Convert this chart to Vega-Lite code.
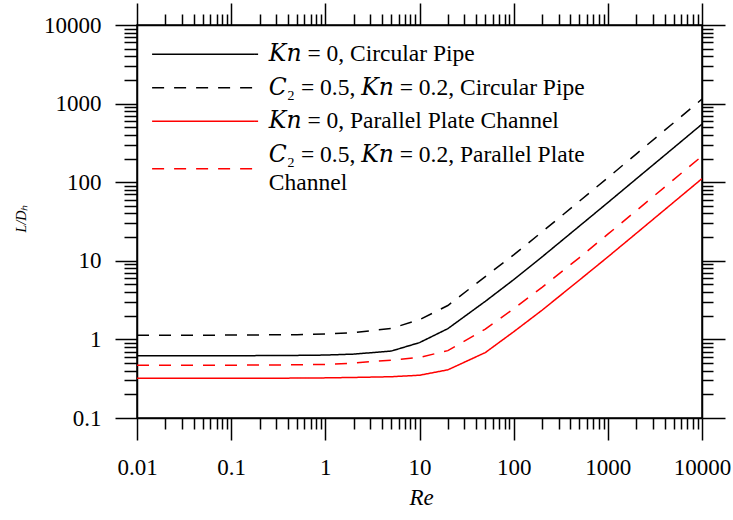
{
  "$schema": "https://vega.github.io/schema/vega-lite/v6.json",
  "width": 565,
  "height": 393,
  "autosize": {"type": "none"},
  "padding": {"left": 137, "top": 25, "right": 31, "bottom": 102},
  "background": "white",
  "config": {
    "view": {"stroke": "black", "strokeWidth": 1.5},
    "font": "Liberation Serif",
    "axis": {
      "grid": false,
      "domainColor": "black",
      "domainWidth": 1.5,
      "tickColor": "black",
      "tickWidth": 1.5,
      "labelFont": "Liberation Serif",
      "labelFontSize": 23,
      "labelColor": "black",
      "labelOverlap": false,
      "labelFlush": false,
      "labelBound": false,
      "titleFont": "Liberation Serif",
      "titleFontWeight": "normal",
      "titleColor": "black"
    },
    "legend": {
      "title": null,
      "orient": "none",
      "legendX": 56.35,
      "legendY": 17.5,
      "padding": 0,
      "symbolType": "M-5,0H5",
      "symbolSize": 449.4,
      "symbolStrokeWidth": 1.5,
      "labelFont": "Liberation Serif, DejaVu Serif",
      "labelFontSize": 23.5,
      "labelColor": "black",
      "labelOffset": 52,
      "labelLimit": 600,
      "rowPadding": 8.5
    }
  },
  "data": {
    "values": [
      {"Re": 0.01, "series": "Kn = 0, Circular Pipe", "L": 0.62},
      {"Re": 0.02, "series": "Kn = 0, Circular Pipe", "L": 0.62},
      {"Re": 0.05, "series": "Kn = 0, Circular Pipe", "L": 0.62},
      {"Re": 0.1, "series": "Kn = 0, Circular Pipe", "L": 0.62},
      {"Re": 0.2, "series": "Kn = 0, Circular Pipe", "L": 0.622},
      {"Re": 0.5, "series": "Kn = 0, Circular Pipe", "L": 0.626},
      {"Re": 1, "series": "Kn = 0, Circular Pipe", "L": 0.632},
      {"Re": 2, "series": "Kn = 0, Circular Pipe", "L": 0.65},
      {"Re": 5, "series": "Kn = 0, Circular Pipe", "L": 0.71},
      {"Re": 10, "series": "Kn = 0, Circular Pipe", "L": 0.91},
      {"Re": 20, "series": "Kn = 0, Circular Pipe", "L": 1.37},
      {"Re": 50, "series": "Kn = 0, Circular Pipe", "L": 3.05},
      {"Re": 100, "series": "Kn = 0, Circular Pipe", "L": 5.75},
      {"Re": 200, "series": "Kn = 0, Circular Pipe", "L": 11.2},
      {"Re": 500, "series": "Kn = 0, Circular Pipe", "L": 27.7},
      {"Re": 1000, "series": "Kn = 0, Circular Pipe", "L": 55},
      {"Re": 2000, "series": "Kn = 0, Circular Pipe", "L": 110},
      {"Re": 5000, "series": "Kn = 0, Circular Pipe", "L": 274},
      {"Re": 10000, "series": "Kn = 0, Circular Pipe", "L": 548},

      {"Re": 0.01, "series": "C₂ = 0.5, Kn = 0.2, Circular Pipe", "L": 1.13},
      {"Re": 0.02, "series": "C₂ = 0.5, Kn = 0.2, Circular Pipe", "L": 1.13},
      {"Re": 0.05, "series": "C₂ = 0.5, Kn = 0.2, Circular Pipe", "L": 1.13},
      {"Re": 0.1, "series": "C₂ = 0.5, Kn = 0.2, Circular Pipe", "L": 1.135},
      {"Re": 0.2, "series": "C₂ = 0.5, Kn = 0.2, Circular Pipe", "L": 1.14},
      {"Re": 0.5, "series": "C₂ = 0.5, Kn = 0.2, Circular Pipe", "L": 1.15},
      {"Re": 1, "series": "C₂ = 0.5, Kn = 0.2, Circular Pipe", "L": 1.17},
      {"Re": 2, "series": "C₂ = 0.5, Kn = 0.2, Circular Pipe", "L": 1.22},
      {"Re": 5, "series": "C₂ = 0.5, Kn = 0.2, Circular Pipe", "L": 1.38},
      {"Re": 10, "series": "C₂ = 0.5, Kn = 0.2, Circular Pipe", "L": 1.78},
      {"Re": 20, "series": "C₂ = 0.5, Kn = 0.2, Circular Pipe", "L": 2.7},
      {"Re": 50, "series": "C₂ = 0.5, Kn = 0.2, Circular Pipe", "L": 6.3},
      {"Re": 100, "series": "C₂ = 0.5, Kn = 0.2, Circular Pipe", "L": 11.9},
      {"Re": 200, "series": "C₂ = 0.5, Kn = 0.2, Circular Pipe", "L": 23.3},
      {"Re": 500, "series": "C₂ = 0.5, Kn = 0.2, Circular Pipe", "L": 57.5},
      {"Re": 1000, "series": "C₂ = 0.5, Kn = 0.2, Circular Pipe", "L": 114},
      {"Re": 2000, "series": "C₂ = 0.5, Kn = 0.2, Circular Pipe", "L": 228},
      {"Re": 5000, "series": "C₂ = 0.5, Kn = 0.2, Circular Pipe", "L": 570},
      {"Re": 10000, "series": "C₂ = 0.5, Kn = 0.2, Circular Pipe", "L": 1140},

      {"Re": 0.01, "series": "Kn = 0, Parallel Plate Channel", "L": 0.32},
      {"Re": 0.02, "series": "Kn = 0, Parallel Plate Channel", "L": 0.32},
      {"Re": 0.05, "series": "Kn = 0, Parallel Plate Channel", "L": 0.32},
      {"Re": 0.1, "series": "Kn = 0, Parallel Plate Channel", "L": 0.32},
      {"Re": 0.2, "series": "Kn = 0, Parallel Plate Channel", "L": 0.32},
      {"Re": 0.5, "series": "Kn = 0, Parallel Plate Channel", "L": 0.322},
      {"Re": 1, "series": "Kn = 0, Parallel Plate Channel", "L": 0.324},
      {"Re": 2, "series": "Kn = 0, Parallel Plate Channel", "L": 0.328},
      {"Re": 5, "series": "Kn = 0, Parallel Plate Channel", "L": 0.335},
      {"Re": 10, "series": "Kn = 0, Parallel Plate Channel", "L": 0.35},
      {"Re": 20, "series": "Kn = 0, Parallel Plate Channel", "L": 0.41},
      {"Re": 50, "series": "Kn = 0, Parallel Plate Channel", "L": 0.68},
      {"Re": 100, "series": "Kn = 0, Parallel Plate Channel", "L": 1.25},
      {"Re": 200, "series": "Kn = 0, Parallel Plate Channel", "L": 2.35},
      {"Re": 500, "series": "Kn = 0, Parallel Plate Channel", "L": 5.7},
      {"Re": 1000, "series": "Kn = 0, Parallel Plate Channel", "L": 11.2},
      {"Re": 2000, "series": "Kn = 0, Parallel Plate Channel", "L": 22.3},
      {"Re": 5000, "series": "Kn = 0, Parallel Plate Channel", "L": 55.6},
      {"Re": 10000, "series": "Kn = 0, Parallel Plate Channel", "L": 111},

      {"Re": 0.01, "series": "C₂ = 0.5, Kn = 0.2, Parallel Plate Channel", "L": 0.47},
      {"Re": 0.02, "series": "C₂ = 0.5, Kn = 0.2, Parallel Plate Channel", "L": 0.47},
      {"Re": 0.05, "series": "C₂ = 0.5, Kn = 0.2, Parallel Plate Channel", "L": 0.47},
      {"Re": 0.1, "series": "C₂ = 0.5, Kn = 0.2, Parallel Plate Channel", "L": 0.47},
      {"Re": 0.2, "series": "C₂ = 0.5, Kn = 0.2, Parallel Plate Channel", "L": 0.472},
      {"Re": 0.5, "series": "C₂ = 0.5, Kn = 0.2, Parallel Plate Channel", "L": 0.475},
      {"Re": 1, "series": "C₂ = 0.5, Kn = 0.2, Parallel Plate Channel", "L": 0.48},
      {"Re": 2, "series": "C₂ = 0.5, Kn = 0.2, Parallel Plate Channel", "L": 0.5},
      {"Re": 5, "series": "C₂ = 0.5, Kn = 0.2, Parallel Plate Channel", "L": 0.545},
      {"Re": 10, "series": "C₂ = 0.5, Kn = 0.2, Parallel Plate Channel", "L": 0.59},
      {"Re": 20, "series": "C₂ = 0.5, Kn = 0.2, Parallel Plate Channel", "L": 0.72},
      {"Re": 50, "series": "C₂ = 0.5, Kn = 0.2, Parallel Plate Channel", "L": 1.35},
      {"Re": 100, "series": "C₂ = 0.5, Kn = 0.2, Parallel Plate Channel", "L": 2.45},
      {"Re": 200, "series": "C₂ = 0.5, Kn = 0.2, Parallel Plate Channel", "L": 4.6},
      {"Re": 500, "series": "C₂ = 0.5, Kn = 0.2, Parallel Plate Channel", "L": 11},
      {"Re": 1000, "series": "C₂ = 0.5, Kn = 0.2, Parallel Plate Channel", "L": 21.8},
      {"Re": 2000, "series": "C₂ = 0.5, Kn = 0.2, Parallel Plate Channel", "L": 43.3},
      {"Re": 5000, "series": "C₂ = 0.5, Kn = 0.2, Parallel Plate Channel", "L": 108},
      {"Re": 10000, "series": "C₂ = 0.5, Kn = 0.2, Parallel Plate Channel", "L": 215}
    ]
  },
  "layer": [
    {
      "mark": {"type": "line", "strokeWidth": 1.5, "clip": true},
      "encoding": {
        "x": {
          "field": "Re", "type": "quantitative",
          "scale": {"type": "log", "domain": [0.01, 10000], "nice": false},
          "axis": {
            "orient": "bottom",
            "values": [0.01,0.02,0.03,0.04,0.05,0.06,0.07,0.08,0.09,0.1,0.2,0.3,0.4,0.5,0.6,0.7,0.8,0.9,1,2,3,4,5,6,7,8,9,10,20,30,40,50,60,70,80,90,100,200,300,400,500,600,700,800,900,1000,2000,3000,4000,5000,6000,7000,8000,9000,10000],
            "labelExpr": "abs(log(datum.value)/LN10 - round(log(datum.value)/LN10)) < 0.01 ? format(datum.value, '~g') : ''",
            "tickSize": {"condition": {"test": "abs(log(datum.value)/LN10 - round(log(datum.value)/LN10)) < 0.01", "value": 22}, "value": 11},
            "labelPadding": 16,
            "title": "Re",
            "titleFontStyle": "italic",
            "titleFontSize": 23,
            "titleX": 284,
            "titleY": 79,
            "titleAlign": "center",
            "titleBaseline": "middle"
          }
        },
        "y": {
          "field": "L", "type": "quantitative",
          "scale": {"type": "log", "domain": [0.1, 10000], "nice": false},
          "axis": {
            "orient": "left",
            "values": [0.1,0.2,0.3,0.4,0.5,0.6,0.7,0.8,0.9,1,2,3,4,5,6,7,8,9,10,20,30,40,50,60,70,80,90,100,200,300,400,500,600,700,800,900,1000,2000,3000,4000,5000,6000,7000,8000,9000,10000],
            "labelExpr": "abs(log(datum.value)/LN10 - round(log(datum.value)/LN10)) < 0.01 ? format(datum.value, '~g') : ''",
            "tickSize": {"condition": {"test": "abs(log(datum.value)/LN10 - round(log(datum.value)/LN10)) < 0.01", "value": 22}, "value": 13},
            "labelPadding": 14,
            "title": "L/Dₕ",
            "titleFontStyle": "italic",
            "titleFontSize": 14,
            "titleAngle": -90,
            "titleX": -116,
            "titleY": 193,
            "titleAlign": "center",
            "titleBaseline": "middle"
          }
        },
        "color": {
          "field": "series", "type": "nominal",
          "scale": {
            "domain": ["Kn = 0, Circular Pipe", "C₂ = 0.5, Kn = 0.2, Circular Pipe", "Kn = 0, Parallel Plate Channel", "C₂ = 0.5, Kn = 0.2, Parallel Plate Channel"],
            "range": ["#000000", "#000000", "#ff0000", "#ff0000"]
          },
          "legend": {
            "labelExpr": "datum.label == 'C₂ = 0.5, Kn = 0.2, Parallel Plate Channel' ? ['𝐶₂ = 0.5, 𝐾𝑛 = 0.2, Parallel Plate', 'Channel'] : replace(replace(datum.label, 'Kn', '𝐾𝑛'), 'C₂', '𝐶₂')",
            "encoding": {
              "labels": {
                "dy": {"condition": {"test": "datum.label == 'C₂ = 0.5, Kn = 0.2, Parallel Plate Channel'", "value": -14}, "value": 0},
                "lineHeight": {"value": 28}
              }
            }
          }
        },
        "strokeDash": {
          "field": "series", "type": "nominal",
          "scale": {
            "domain": ["Kn = 0, Circular Pipe", "C₂ = 0.5, Kn = 0.2, Circular Pipe", "Kn = 0, Parallel Plate Channel", "C₂ = 0.5, Kn = 0.2, Parallel Plate Channel"],
            "range": [[1, 0], [12, 10], [1, 0], [12, 10]]
          },
          "legend": {
            "labelExpr": "datum.label == 'C₂ = 0.5, Kn = 0.2, Parallel Plate Channel' ? ['𝐶₂ = 0.5, 𝐾𝑛 = 0.2, Parallel Plate', 'Channel'] : replace(replace(datum.label, 'Kn', '𝐾𝑛'), 'C₂', '𝐶₂')",
            "encoding": {
              "labels": {
                "dy": {"condition": {"test": "datum.label == 'C₂ = 0.5, Kn = 0.2, Parallel Plate Channel'", "value": -14}, "value": 0},
                "lineHeight": {"value": 28}
              }
            }
          }
        }
      }
    },
    {
      "mark": {"type": "line", "opacity": 0},
      "encoding": {
        "x": {
          "field": "Re", "type": "quantitative",
          "axis": {
            "orient": "top",
            "values": [0.01,0.02,0.03,0.04,0.05,0.06,0.07,0.08,0.09,0.1,0.2,0.3,0.4,0.5,0.6,0.7,0.8,0.9,1,2,3,4,5,6,7,8,9,10,20,30,40,50,60,70,80,90,100,200,300,400,500,600,700,800,900,1000,2000,3000,4000,5000,6000,7000,8000,9000,10000],
            "labels": false,
            "title": null,
            "tickSize": {"condition": {"test": "abs(log(datum.value)/LN10 - round(log(datum.value)/LN10)) < 0.01", "value": 22}, "value": 11}
          }
        },
        "y": {
          "field": "L", "type": "quantitative",
          "axis": {
            "orient": "right",
            "values": [0.1,0.2,0.3,0.4,0.5,0.6,0.7,0.8,0.9,1,2,3,4,5,6,7,8,9,10,20,30,40,50,60,70,80,90,100,200,300,400,500,600,700,800,900,1000,2000,3000,4000,5000,6000,7000,8000,9000,10000],
            "labels": false,
            "title": null,
            "tickSize": {"condition": {"test": "abs(log(datum.value)/LN10 - round(log(datum.value)/LN10)) < 0.01", "value": 23}, "value": 11}
          }
        },
        "detail": {"field": "series", "type": "nominal"}
      }
    }
  ],
  "resolve": {"axis": {"x": "independent", "y": "independent"}}
}
